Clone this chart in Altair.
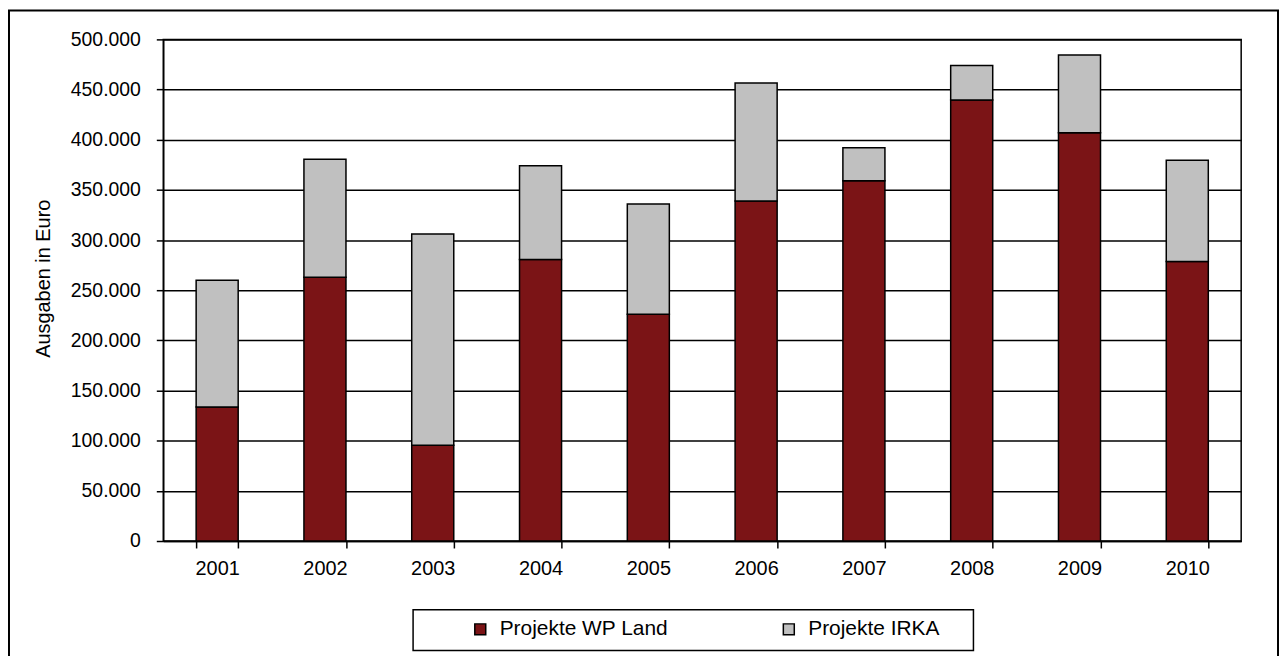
import altair as alt
import pandas as pd

years = ["2001", "2002", "2003", "2004", "2005", "2006", "2007", "2008", "2009", "2010"]
wp_land = [133500, 263000, 95500, 280500, 226000, 339000, 359000, 439500, 407000, 278500]
irka = [126500, 117500, 210500, 93500, 110000, 117500, 33000, 34500, 77500, 101000]
series = ["Projekte WP Land", "Projekte IRKA"]
colors = ["#7B1416", "#C0C0C0"]
y_ticks = [0, 50000, 100000, 150000, 200000, 250000, 300000, 350000, 400000, 450000, 500000]

rows = []
for i, yr in enumerate(years):
    rows.append({"Jahr": yr, "Serie": series[0], "Wert": wp_land[i], "Ordnung": 0})
    rows.append({"Jahr": yr, "Serie": series[1], "Wert": irka[i], "Ordnung": 1})
df = pd.DataFrame(rows)

W, H = 1083, 504
FONT = "Liberation Sans"

bars = alt.Chart(df).mark_bar(stroke="black", strokeWidth=1.5).encode(
    x=alt.X(
        "Jahr:N",
        sort=years,
        scale=alt.Scale(paddingInner=0.61, paddingOuter=0.305),
        axis=alt.Axis(
            title=None,
            labelAngle=0,
            tickBand="extent",
            grid=False,
            domainColor="black",
            domainWidth=1.5,
            tickColor="black",
            tickWidth=1.5,
            tickSize=7,
            labelPadding=11,
            labelFontSize=20,
            labelColor="black",
            labelFont=FONT,
        ),
    ),
    y=alt.Y(
        "Wert:Q",
        stack="zero",
        scale=alt.Scale(domain=[0, 500000], nice=False),
        axis=alt.Axis(
            title="Ausgaben in Euro",
            values=y_ticks,
            labelExpr="replace(format(datum.value, ',d'), ',', '.')",
            grid=True,
            gridColor="black",
            gridWidth=1.5,
            gridOpacity=1,
            domainColor="black",
            domainWidth=1.5,
            tickColor="black",
            tickWidth=1.5,
            tickSize=7,
            labelPadding=16,
            labelFontSize=19.5,
            labelColor="black",
            labelFont=FONT,
            titleFontSize=20,
            titleFontWeight="normal",
            titleColor="black",
            titleFont=FONT,
            titleX=-120,
            titleY=240,
            titleAngle=270,
            titleAlign="center",
            titleBaseline="middle",
        ),
    ),
    color=alt.Color(
        "Serie:N",
        scale=alt.Scale(domain=series, range=colors),
        legend=alt.Legend(
            title=None,
            orient="none",
            legendX=308,
            legendY=582,
            direction="horizontal",
            symbolType="square",
            symbolSize=121,
            symbolStrokeColor="black",
            symbolStrokeWidth=1.5,
            symbolOpacity=1,
            labelFontSize=21,
            labelFont=FONT,
            labelColor="black",
            labelOffset=9,
            labelLimit=400,
            columnPadding=110,
            padding=0,
        ),
    ),
    order=alt.Order("Ordnung:Q"),
)

one = pd.DataFrame({"k": [0]})

legend_box = alt.Chart(one).mark_rect(fill="white", stroke="black", strokeWidth=1.5).encode(
    x=alt.value(251), x2=alt.value(814), y=alt.value(573), y2=alt.value(614)
)

outer_frame = alt.Chart(one).mark_rect(fill=None, stroke="black", strokeWidth=2).encode(
    x=alt.value(-155), x2=alt.value(1120), y=alt.value(-29), y2=alt.value(700)
)

chart = alt.layer(outer_frame, legend_box, bars).properties(
    width=W,
    height=H,
    autosize=alt.AutoSizeParams(type="none"),
    padding={"left": 156, "top": 30, "right": 38, "bottom": 114},
).configure(
    font=FONT,
).configure_view(
    stroke="black", strokeWidth=1.5
)

chart.save("out.html", embed_options={"renderer": "svg", "actions": False})
